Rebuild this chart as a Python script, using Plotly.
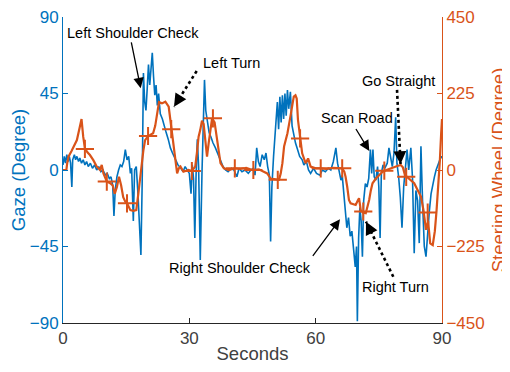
import plotly.graph_objects as go

# ---- data ----
gaze_t = [0.0, 0.3, 0.6, 0.9, 1.2, 1.5, 1.8, 2.1, 2.3, 2.7, 3.0, 3.3, 3.7, 4.0, 4.4, 4.8, 5.2, 5.6, 6.0, 6.5,
          7.0, 7.5, 8.0, 8.5, 9.0, 9.5, 10.0, 10.5, 11.0, 11.4, 11.8, 12.1, 12.4, 12.8, 13.2, 13.6, 14.0, 14.4,
          14.8, 15.2, 15.6, 16.0, 16.3, 16.7, 17.0, 17.4, 17.8, 18.2, 18.5, 18.8, 19.1, 19.4, 19.7, 20.0, 20.3,
          20.6, 21.0, 21.2, 21.5, 21.8, 22.1, 22.4, 22.7, 23.1, 23.6, 24.0, 24.5, 25.0, 25.5, 26.0, 26.7, 27.3,
          28.0, 28.5, 29.0, 29.5, 30.0, 30.4, 30.7, 31.0, 31.3, 31.6, 31.9, 32.2, 32.6, 33.0, 33.3, 33.6, 33.9,
          34.3, 34.7, 35.2, 35.6, 36.2, 36.8, 37.4, 38.0, 38.6, 39.2, 40.0, 40.6, 41.3, 41.8, 42.5, 43.2, 44.0,
          44.6, 45.2, 45.6, 46.0, 46.4, 46.8, 47.3, 47.8, 48.2, 48.6, 49.0, 49.3, 49.6, 50.0, 50.3, 50.6, 50.9,
          51.2, 51.5, 51.8, 52.1, 52.4, 52.7, 53.0, 53.3, 53.6, 54.0, 54.4, 54.8, 55.2, 55.7, 56.2, 56.8, 57.2,
          57.8, 58.3, 58.8, 59.5, 60.2, 61.0, 61.6, 62.3, 63.0, 63.6, 64.2, 64.8, 65.2, 65.7, 66.0, 66.3, 66.7,
          67.0, 67.4, 67.8, 68.2, 68.6, 69.0, 69.4, 69.7, 69.9, 70.2, 70.5, 70.8, 71.1, 71.4, 71.8, 72.2, 72.6,
          73.0, 73.3, 73.6, 73.9, 74.3, 74.7, 75.0, 75.3, 75.6, 76.0, 76.4, 77.0, 77.4, 77.8, 78.2, 78.6, 79.0,
          79.3, 79.7, 80.1, 80.5, 80.9, 81.3, 81.7, 82.1, 82.6, 83.0, 83.4, 83.8, 84.2, 84.6, 85.0, 85.4, 85.8,
          86.2, 86.6, 87.0, 87.4, 87.8, 88.2, 88.6, 89.0, 89.4, 89.8, 90.0]
gaze_deg = [3, 8, 4, 9, 5, 8, 4, -10, 6, 9, 6, 8, 5, 7, 4, 6, 3, 5, 2, 4,
            1, 3, 0, 2, -1, 0, -3, -2, -5, -4, -9, -27, -12, -4, 0, 3, 2, 5,
            12, 6, 8, -2, 1, -30, 0, 2, -14, -34, -50, -8, 57, 40, 35, 48, 62,
            50, 66, 69, 55, 44, 50, 38, 45, 33, 30, 27, 22, 18, 13, 10, 6, 3,
            1, -1, 2, 0, -2, -14, 3, -5, -40, -3, 18, 2, -53, -2, 20, 53, 35,
            28, 22, 19, 16, 13, 9, 5, 2, 0, -1, 1, 0, -4, 1, -1, 0, -2,
            0, 1, -3, 13, 5, 2, 9, 6, 10, 2, -3, -42, -10, 8, 20, 33, 40,
            24, 43, 28, 44, 30, 45, 32, 47, 36, 46, 26, 20, 16, 12, 8, 6, 3,
            5, 0, -2, 1, -2, -3, 0, -1, 1, 0, 5, 13, 4, -2, -6, -3, -16,
            -24, -34, -28, -39, -36, -47, -57, -45, -89, -40, -22, -30, -51, -18, -8, -10, -5,
            12, -2, 12, -4, -6, 2, -10, -40, -2, 3, 1, 4, 13, 8, 2, 10, 31,
            4, -4, -16, -34, -10, 2, 12, 0, 13, -5, -49, -12, -18, -43, 14, -20, -45,
            -51, -35, -24, -14, -8, -4, 0, 3, 6, 8, 7]

steer_t = [0.0, 0.8, 1.0, 1.3, 2.0, 2.5, 3.3, 4.0, 4.4, 4.8, 5.2, 5.8, 6.4, 7.2, 8.0, 8.8, 9.2, 9.6, 10.4,
           11.2, 11.8, 12.3, 12.8, 13.3, 13.8, 14.3, 14.8, 15.3, 16.0, 16.7, 17.4, 17.9, 18.3, 18.7, 19.1,
           19.5, 20.1, 20.8, 21.4, 21.9, 22.3, 22.8, 23.5, 24.3, 25.1, 25.5, 25.9, 26.3, 26.7, 27.1, 27.5,
           27.9, 28.6, 29.8, 30.6, 31.4, 31.8, 32.2, 32.6, 33.0, 33.4, 33.8, 34.2, 34.6, 35.0, 35.4, 36.0,
           36.6, 37.0, 37.4, 38.2, 39.4, 40.8, 42.0, 43.5, 45.0, 46.5, 47.5, 48.5, 49.3, 50.3, 51.3, 51.7,
           52.1, 52.5, 53.3, 54.0, 54.4, 54.8, 55.2, 55.5, 55.8, 56.3, 56.8, 57.6, 58.2, 58.8, 60.0, 61.2,
           62.5, 64.0, 65.5, 66.3, 66.8, 67.1, 67.5, 67.9, 68.3, 69.0, 69.5, 70.0, 70.3, 70.7, 71.2, 71.9,
           72.3, 72.7, 73.1, 73.5, 74.3, 75.1, 75.9, 76.8, 77.8, 78.6, 79.4, 80.2, 80.7, 81.2, 81.8, 82.6,
           83.4, 84.2, 85.0, 85.6, 86.2, 86.7, 87.2, 87.8, 88.3, 88.7, 89.0, 89.5, 89.8, 90.0]
steer_deg = [0, 0, 20, 39, 55, 69, 88, 127, 150, 98, 64, 52, 44, 29, 10, 0, 15, -10, -34,
             -39, -45, -70, -50, -20, -45, -80, -93, -100, -118, -120, -118, -69, -20, 10, 59,
             88, 98, 104, 108, 130, 160, 200, 196, 201, 186, 147, 118, 78, 39, -10, 5,
             10, -5, 0, -3, 10, 50, 98, 118, 145, 135, 88, 39, 80, 118, 152, 140,
             88, 49, 20, 5, 0, 5, 3, 6, 0, 2, -3, -10, -25, -28, -29, -10,
             20, 69, 108, 157, 191, 216, 220, 210, 147, 93, 49, 20, 34, 10, 5, 5,
             3, 6, 4, 5, -5, -20, -50, -88, -98, -100, -103, -90, -83, -118, -125, -127,
             -110, -88, -60, -39, -25, -15, -5, 0, 5, 10, 12, 15, 8, -15, -22, -30,
             -39, -59, -78, -118, -176, -150, -216, -221, -180, -120, -69, 29, 108, 150]

marker_t = [5.2, 10.4, 15.2, 20.2, 25.7, 30.6, 35.6, 40.8, 45.2, 51.0, 56.3, 61.2, 66.3, 71.3, 76.3, 81.5, 86.6]
marker_deg = [62, -34, -98, 100, 120, -3, 152, 5, 0, -29, 93, 5, 5, -122, -2, -20, -125]

x_ticks = [0, 30, 60, 90]
gaze_ticks = [-90, -45, 0, 45, 90]
steer_ticks = [-450, -225, 0, 225, 450]

BLUE = "#0072BD"
ORANGE = "#D95319"
GRAY = "#262626"
FONT = "Liberation Sans, Arial, sans-serif"

fig = go.Figure()
fig.add_trace(go.Scatter(x=gaze_t, y=gaze_deg, mode="lines",
                         line=dict(color=BLUE, width=1.6), yaxis="y", showlegend=False))
fig.add_trace(go.Scatter(x=steer_t, y=steer_deg, mode="lines",
                         line=dict(color=ORANGE, width=2.2), yaxis="y2", showlegend=False))
fig.add_trace(go.Scatter(x=marker_t, y=marker_deg, mode="markers",
                         marker=dict(symbol="cross-thin", size=13, line=dict(color=ORANGE, width=2)),
                         yaxis="y2", showlegend=False))

ann_font = dict(family=FONT, size=14.5, color="#000000")
annotations = []
texts = [("Left Shoulder Check", 16.62, 80.8), ("Left Turn", 40.13, 62.8), ("Go Straight", 79.62, 52.5),
         ("Scan Road", 69.82, 30.4), ("Right Shoulder Check", 42.03, -57.8), ("Right Turn", 78.96, -69.0)]
for txt, tx, ty in texts:
    annotations.append(dict(x=tx, y=ty, xref="x", yref="y", text=txt, showarrow=False,
                            font=ann_font, xanchor="center", yanchor="middle"))

# solid arrows (head at x,y ; tail at ax,ay in data coords)
solid = [(18.45, 48.1, 16.15, 75.9), (72.74, 11.2, 69.35, 25.0), (65.78, -29.0, 59.06, -51.4)]
for hx, hy, tx, ty in solid:
    annotations.append(dict(x=hx, y=hy, ax=tx, ay=ty, xref="x", yref="y", axref="x", ayref="y",
                            text="", showarrow=True, arrowhead=2, arrowsize=1.6, arrowwidth=1.3,
                            arrowcolor="#000000"))

# dotted arrows: dotted shaft (shape) + arrowhead (annotation)
dotted = [((26.36, 37.2), (31.75, 58.2), (6.4, -10.1)),
          ((80.15, 3.5), (79.32, 47.1), (-0.6, -12.0)),
          ((71.95, -30.4), (78.44, -62.8), (5.3, 10.8))]
shapes = []
for (hx, hy), (tx, ty), (px, py) in dotted:
    shapes.append(dict(type="line", xref="x", yref="y", x0=tx, y0=ty, x1=hx, y1=hy,
                       line=dict(color="#000000", width=2.6, dash="dot")))
    annotations.append(dict(x=hx, y=hy, ax=px, ay=py, xref="x", yref="y",
                            text="", showarrow=True, arrowhead=2, arrowsize=1.6, arrowwidth=1.6,
                            arrowcolor="#000000"))

# the page body adds an 8 px offset; size the figure so the plot sits where the reference's does
fig.update_layout(
    width=502, height=356,
    margin=dict(l=55, r=68, t=9, b=41, autoexpand=False),
    paper_bgcolor="white", plot_bgcolor="white",
    font=dict(family=FONT, color=GRAY),
    annotations=annotations, shapes=shapes,
    xaxis=dict(range=[0, 90], tickvals=x_ticks, ticks="inside", ticklen=5, tickcolor=GRAY,
               showline=True, linecolor=GRAY, linewidth=1, showgrid=False, zeroline=False,
               tickfont=dict(size=17, color="#404040"), ticklabeloverflow="allow",
               title=dict(text="Seconds", font=dict(size=18.5, color="#404040"), standoff=8)),
    yaxis=dict(range=[-90, 90], tickvals=gaze_ticks, ticks="inside", ticklen=5, tickcolor=BLUE,
               showline=True, linecolor=BLUE, linewidth=1, showgrid=False, zeroline=False,
               tickfont=dict(size=17, color=BLUE), ticklabeloverflow="allow",
               title=dict(text="Gaze (Degree)", font=dict(size=18.5, color=BLUE), standoff=6)),
    yaxis2=dict(range=[-450, 450], tickvals=steer_ticks, ticks="inside", ticklen=5, tickcolor=ORANGE,
                overlaying="y", side="right", anchor="x",
                showline=True, linecolor=ORANGE, linewidth=1, showgrid=False, zeroline=False,
                tickfont=dict(size=17, color=ORANGE), ticklabeloverflow="allow",
                title=dict(text="Steering Wheel (Degree)", font=dict(size=18.5, color=ORANGE), standoff=8)),
)

fig.write_html("out.html")
